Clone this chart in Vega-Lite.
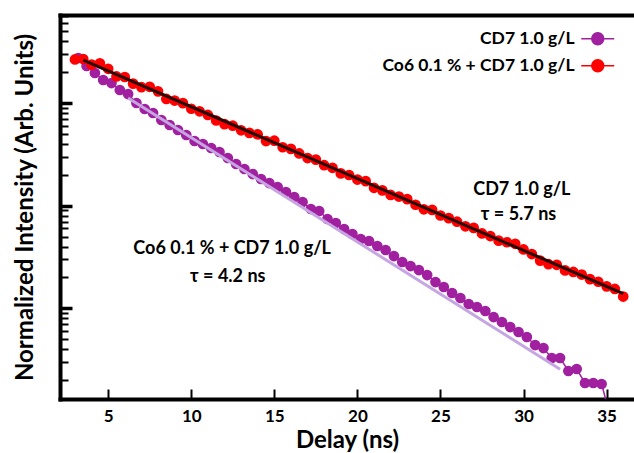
{
  "$schema": "https://vega.github.io/schema/vega-lite/v6.json",
  "width": 574,
  "height": 384,
  "autosize": {"type": "none"},
  "padding": {"left": 60, "top": 15, "right": 0, "bottom": 54},
  "background": "white",
  "config": {"view": {"stroke": null}, "font": "Lato", "axis": {"grid": false}},
  "datasets": {
    "decay": [
      {"series": "CD7 1.0 g/L", "delay": 3.2, "intensity": 2.743},
      {"series": "CD7 1.0 g/L", "delay": 3.7, "intensity": 2.293},
      {"series": "CD7 1.0 g/L", "delay": 4.2, "intensity": 1.960},
      {"series": "CD7 1.0 g/L", "delay": 4.7, "intensity": 1.675},
      {"series": "CD7 1.0 g/L", "delay": 5.2, "intensity": 1.565},
      {"series": "CD7 1.0 g/L", "delay": 5.7, "intensity": 1.339},
      {"series": "CD7 1.0 g/L", "delay": 6.2, "intensity": 1.223},
      {"series": "CD7 1.0 g/L", "delay": 6.7, "intensity": 1.000},
      {"series": "CD7 1.0 g/L", "delay": 7.2, "intensity": 0.874},
      {"series": "CD7 1.0 g/L", "delay": 7.7, "intensity": 0.7991},
      {"series": "CD7 1.0 g/L", "delay": 8.2, "intensity": 0.6832},
      {"series": "CD7 1.0 g/L", "delay": 8.7, "intensity": 0.6106},
      {"series": "CD7 1.0 g/L", "delay": 9.2, "intensity": 0.5459},
      {"series": "CD7 1.0 g/L", "delay": 9.7, "intensity": 0.4881},
      {"series": "CD7 1.0 g/L", "delay": 10.2, "intensity": 0.4266},
      {"series": "CD7 1.0 g/L", "delay": 10.7, "intensity": 0.3989},
      {"series": "CD7 1.0 g/L", "delay": 11.2, "intensity": 0.3646},
      {"series": "CD7 1.0 g/L", "delay": 11.7, "intensity": 0.3333},
      {"series": "CD7 1.0 g/L", "delay": 12.2, "intensity": 0.2914},
      {"series": "CD7 1.0 g/L", "delay": 12.7, "intensity": 0.2547},
      {"series": "CD7 1.0 g/L", "delay": 13.2, "intensity": 0.2277},
      {"series": "CD7 1.0 g/L", "delay": 13.7, "intensity": 0.2035},
      {"series": "CD7 1.0 g/L", "delay": 14.2, "intensity": 0.1820},
      {"series": "CD7 1.0 g/L", "delay": 14.7, "intensity": 0.1663},
      {"series": "CD7 1.0 g/L", "delay": 15.2, "intensity": 0.1521},
      {"series": "CD7 1.0 g/L", "delay": 15.7, "intensity": 0.1360},
      {"series": "CD7 1.0 g/L", "delay": 16.2, "intensity": 0.1215},
      {"series": "CD7 1.0 g/L", "delay": 16.7, "intensity": 0.1086},
      {"series": "CD7 1.0 g/L", "delay": 17.2, "intensity": 0.09288},
      {"series": "CD7 1.0 g/L", "delay": 17.7, "intensity": 0.0888},
      {"series": "CD7 1.0 g/L", "delay": 18.2, "intensity": 0.07421},
      {"series": "CD7 1.0 g/L", "delay": 18.7, "intensity": 0.06785},
      {"series": "CD7 1.0 g/L", "delay": 19.2, "intensity": 0.0593},
      {"series": "CD7 1.0 g/L", "delay": 19.7, "intensity": 0.05303},
      {"series": "CD7 1.0 g/L", "delay": 20.2, "intensity": 0.04741},
      {"series": "CD7 1.0 g/L", "delay": 20.7, "intensity": 0.04533},
      {"series": "CD7 1.0 g/L", "delay": 21.2, "intensity": 0.04052},
      {"series": "CD7 1.0 g/L", "delay": 21.7, "intensity": 0.03704},
      {"series": "CD7 1.0 g/L", "delay": 22.2, "intensity": 0.03237},
      {"series": "CD7 1.0 g/L", "delay": 22.7, "intensity": 0.0283},
      {"series": "CD7 1.0 g/L", "delay": 23.2, "intensity": 0.02587},
      {"series": "CD7 1.0 g/L", "delay": 23.7, "intensity": 0.02365},
      {"series": "CD7 1.0 g/L", "delay": 24.2, "intensity": 0.02114},
      {"series": "CD7 1.0 g/L", "delay": 24.7, "intensity": 0.01807},
      {"series": "CD7 1.0 g/L", "delay": 25.2, "intensity": 0.01616},
      {"series": "CD7 1.0 g/L", "delay": 25.7, "intensity": 0.01413},
      {"series": "CD7 1.0 g/L", "delay": 26.2, "intensity": 0.01263},
      {"series": "CD7 1.0 g/L", "delay": 26.7, "intensity": 0.01104},
      {"series": "CD7 1.0 g/L", "delay": 27.2, "intensity": 0.01032},
      {"series": "CD7 1.0 g/L", "delay": 27.7, "intensity": 0.009434},
      {"series": "CD7 1.0 g/L", "delay": 28.2, "intensity": 0.008245},
      {"series": "CD7 1.0 g/L", "delay": 28.7, "intensity": 0.007372},
      {"series": "CD7 1.0 g/L", "delay": 29.2, "intensity": 0.006589},
      {"series": "CD7 1.0 g/L", "delay": 29.7, "intensity": 0.005891},
      {"series": "CD7 1.0 g/L", "delay": 30.2, "intensity": 0.005266},
      {"series": "CD7 1.0 g/L", "delay": 30.7, "intensity": 0.004401},
      {"series": "CD7 1.0 g/L", "delay": 31.2, "intensity": 0.004115},
      {"series": "CD7 1.0 g/L", "delay": 31.7, "intensity": 0.003289},
      {"series": "CD7 1.0 g/L", "delay": 32.2, "intensity": 0.003289},
      {"series": "CD7 1.0 g/L", "delay": 32.7, "intensity": 0.002458},
      {"series": "CD7 1.0 g/L", "delay": 33.2, "intensity": 0.00257},
      {"series": "CD7 1.0 g/L", "delay": 33.7, "intensity": 0.001878},
      {"series": "CD7 1.0 g/L", "delay": 34.2, "intensity": 0.001878},
      {"series": "CD7 1.0 g/L", "delay": 34.7, "intensity": 0.001836},
      {"series": "CD7 1.0 g/L", "delay": 35.2, "intensity": 0.000916},
      {"series": "Co6 0.1 % + CD7 1.0 g/L", "delay": 3.0, "intensity": 2.655},
      {"series": "Co6 0.1 % + CD7 1.0 g/L", "delay": 3.5, "intensity": 2.680},
      {"series": "Co6 0.1 % + CD7 1.0 g/L", "delay": 4.0, "intensity": 2.364},
      {"series": "Co6 0.1 % + CD7 1.0 g/L", "delay": 4.5, "intensity": 2.439},
      {"series": "Co6 0.1 % + CD7 1.0 g/L", "delay": 5.0, "intensity": 2.152},
      {"series": "Co6 0.1 % + CD7 1.0 g/L", "delay": 5.5, "intensity": 1.815},
      {"series": "Co6 0.1 % + CD7 1.0 g/L", "delay": 6.0, "intensity": 1.791},
      {"series": "Co6 0.1 % + CD7 1.0 g/L", "delay": 6.5, "intensity": 1.545},
      {"series": "Co6 0.1 % + CD7 1.0 g/L", "delay": 7.0, "intensity": 1.426},
      {"series": "Co6 0.1 % + CD7 1.0 g/L", "delay": 7.5, "intensity": 1.439},
      {"series": "Co6 0.1 % + CD7 1.0 g/L", "delay": 8.0, "intensity": 1.298},
      {"series": "Co6 0.1 % + CD7 1.0 g/L", "delay": 8.5, "intensity": 1.095},
      {"series": "Co6 0.1 % + CD7 1.0 g/L", "delay": 9.0, "intensity": 1.056},
      {"series": "Co6 0.1 % + CD7 1.0 g/L", "delay": 9.5, "intensity": 0.9968},
      {"series": "Co6 0.1 % + CD7 1.0 g/L", "delay": 10.0, "intensity": 0.8794},
      {"series": "Co6 0.1 % + CD7 1.0 g/L", "delay": 10.5, "intensity": 0.8299},
      {"series": "Co6 0.1 % + CD7 1.0 g/L", "delay": 11.0, "intensity": 0.7656},
      {"series": "Co6 0.1 % + CD7 1.0 g/L", "delay": 11.5, "intensity": 0.6754},
      {"series": "Co6 0.1 % + CD7 1.0 g/L", "delay": 12.0, "intensity": 0.6232},
      {"series": "Co6 0.1 % + CD7 1.0 g/L", "delay": 12.5, "intensity": 0.6015},
      {"series": "Co6 0.1 % + CD7 1.0 g/L", "delay": 13.0, "intensity": 0.5424},
      {"series": "Co6 0.1 % + CD7 1.0 g/L", "delay": 13.5, "intensity": 0.5118},
      {"series": "Co6 0.1 % + CD7 1.0 g/L", "delay": 14.0, "intensity": 0.4939},
      {"series": "Co6 0.1 % + CD7 1.0 g/L", "delay": 14.5, "intensity": 0.4259},
      {"series": "Co6 0.1 % + CD7 1.0 g/L", "delay": 15.0, "intensity": 0.4298},
      {"series": "Co6 0.1 % + CD7 1.0 g/L", "delay": 15.5, "intensity": 0.3708},
      {"series": "Co6 0.1 % + CD7 1.0 g/L", "delay": 16.0, "intensity": 0.3577},
      {"series": "Co6 0.1 % + CD7 1.0 g/L", "delay": 16.5, "intensity": 0.3228},
      {"series": "Co6 0.1 % + CD7 1.0 g/L", "delay": 17.0, "intensity": 0.2912},
      {"series": "Co6 0.1 % + CD7 1.0 g/L", "delay": 17.5, "intensity": 0.2810},
      {"series": "Co6 0.1 % + CD7 1.0 g/L", "delay": 18.0, "intensity": 0.2479},
      {"series": "Co6 0.1 % + CD7 1.0 g/L", "delay": 18.5, "intensity": 0.2339},
      {"series": "Co6 0.1 % + CD7 1.0 g/L", "delay": 19.0, "intensity": 0.2064},
      {"series": "Co6 0.1 % + CD7 1.0 g/L", "delay": 19.5, "intensity": 0.1991},
      {"series": "Co6 0.1 % + CD7 1.0 g/L", "delay": 20.0, "intensity": 0.1797},
      {"series": "Co6 0.1 % + CD7 1.0 g/L", "delay": 20.5, "intensity": 0.1734},
      {"series": "Co6 0.1 % + CD7 1.0 g/L", "delay": 21.0, "intensity": 0.1495},
      {"series": "Co6 0.1 % + CD7 1.0 g/L", "delay": 21.5, "intensity": 0.1411},
      {"series": "Co6 0.1 % + CD7 1.0 g/L", "delay": 22.0, "intensity": 0.1272},
      {"series": "Co6 0.1 % + CD7 1.0 g/L", "delay": 22.5, "intensity": 0.1228},
      {"series": "Co6 0.1 % + CD7 1.0 g/L", "delay": 23.0, "intensity": 0.1159},
      {"series": "Co6 0.1 % + CD7 1.0 g/L", "delay": 23.5, "intensity": 0.1022},
      {"series": "Co6 0.1 % + CD7 1.0 g/L", "delay": 24.0, "intensity": 0.09222},
      {"series": "Co6 0.1 % + CD7 1.0 g/L", "delay": 24.5, "intensity": 0.09102},
      {"series": "Co6 0.1 % + CD7 1.0 g/L", "delay": 25.0, "intensity": 0.0803},
      {"series": "Co6 0.1 % + CD7 1.0 g/L", "delay": 25.5, "intensity": 0.07574},
      {"series": "Co6 0.1 % + CD7 1.0 g/L", "delay": 26.0, "intensity": 0.0699},
      {"series": "Co6 0.1 % + CD7 1.0 g/L", "delay": 26.5, "intensity": 0.06306},
      {"series": "Co6 0.1 % + CD7 1.0 g/L", "delay": 27.0, "intensity": 0.06083},
      {"series": "Co6 0.1 % + CD7 1.0 g/L", "delay": 27.5, "intensity": 0.05369},
      {"series": "Co6 0.1 % + CD7 1.0 g/L", "delay": 28.0, "intensity": 0.05064},
      {"series": "Co6 0.1 % + CD7 1.0 g/L", "delay": 28.5, "intensity": 0.0457},
      {"series": "Co6 0.1 % + CD7 1.0 g/L", "delay": 29.0, "intensity": 0.04409},
      {"series": "Co6 0.1 % + CD7 1.0 g/L", "delay": 29.5, "intensity": 0.04254},
      {"series": "Co6 0.1 % + CD7 1.0 g/L", "delay": 30.0, "intensity": 0.03753},
      {"series": "Co6 0.1 % + CD7 1.0 g/L", "delay": 30.5, "intensity": 0.03385},
      {"series": "Co6 0.1 % + CD7 1.0 g/L", "delay": 31.0, "intensity": 0.02921},
      {"series": "Co6 0.1 % + CD7 1.0 g/L", "delay": 31.5, "intensity": 0.02695},
      {"series": "Co6 0.1 % + CD7 1.0 g/L", "delay": 32.0, "intensity": 0.02659},
      {"series": "Co6 0.1 % + CD7 1.0 g/L", "delay": 32.5, "intensity": 0.02346},
      {"series": "Co6 0.1 % + CD7 1.0 g/L", "delay": 33.0, "intensity": 0.02263},
      {"series": "Co6 0.1 % + CD7 1.0 g/L", "delay": 33.5, "intensity": 0.02135},
      {"series": "Co6 0.1 % + CD7 1.0 g/L", "delay": 34.0, "intensity": 0.01927},
      {"series": "Co6 0.1 % + CD7 1.0 g/L", "delay": 34.5, "intensity": 0.01818},
      {"series": "Co6 0.1 % + CD7 1.0 g/L", "delay": 35.0, "intensity": 0.0164},
      {"series": "Co6 0.1 % + CD7 1.0 g/L", "delay": 35.5, "intensity": 0.01547},
      {"series": "Co6 0.1 % + CD7 1.0 g/L", "delay": 36.0, "intensity": 0.01305}
    ],
    "fits": [
      {"fit": "CD7 fit", "delay": 6.2, "intensity": 1.119},
      {"fit": "CD7 fit", "delay": 32.2, "intensity": 0.002561},
      {"fit": "Co6 fit", "delay": 3.5, "intensity": 2.62},
      {"fit": "Co6 fit", "delay": 36.0, "intensity": 0.01396}
    ],
    "notes": [
      {"delay": 12.46, "intensity": 0.0379, "text": "Co6 0.1 % + CD7 1.0 g/L"},
      {"delay": 12.2, "intensity": 0.0202, "text": "τ = 4.2 ns"},
      {"delay": 29.9, "intensity": 0.1422, "text": "CD7 1.0 g/L"},
      {"delay": 29.7, "intensity": 0.0812, "text": "τ = 5.7 ns"}
    ]
  },
  "resolve": {"axis": {"x": "independent", "y": "independent"}},
  "layer": [
    {
      "data": {"name": "decay"},
      "mark": {"type": "line", "strokeWidth": 1.5, "clip": true},
      "encoding": {
        "x": {
          "field": "delay", "type": "quantitative",
          "scale": {"domain": [2.1, 36.65], "nice": false, "zero": false},
          "axis": {
            "orient": "bottom", "values": [5, 10, 15, 20, 25, 30, 35],
            "domainWidth": 4, "domainColor": "black", "domainCap": "square",
            "tickSize": -10, "tickWidth": 2, "tickColor": "black",
            "labelFont": "Lato", "labelFontSize": 17, "labelFontWeight": "bold", "labelColor": "black",
            "labelPadding": 19,
            "title": "Delay (ns)", "titleFont": "Lato", "titleFontSize": 24, "titleFontWeight": "bold",
            "titleColor": "black", "titlePadding": 4
          }
        },
        "y": {
          "field": "intensity", "type": "quantitative",
          "scale": {"type": "log", "domain": [0.001312, 7.193], "nice": false},
          "axis": {
            "orient": "left",
            "values": [0.002, 0.003, 0.004, 0.005, 0.006, 0.007, 0.008, 0.009, 0.02, 0.03, 0.04, 0.05, 0.06, 0.07, 0.08, 0.09, 0.2, 0.3, 0.4, 0.5, 0.6, 0.7, 0.8, 0.9, 2, 3, 4, 5, 6, 7],
            "labels": false,
            "domainWidth": 4, "domainColor": "black", "domainCap": "square",
            "tickSize": -8, "tickWidth": 2, "tickColor": "black",
            "title": "Normalized Intensity (Arb. Units)", "titleFont": "Lato", "titleFontSize": 24,
            "titleFontWeight": "bold", "titleColor": "black", "titlePadding": 22
          }
        },
        "detail": {"field": "series"},
        "color": {"condition": {"test": "datum.series === 'CD7 1.0 g/L'", "value": "#A020A0"}, "value": "#FF0000"}
      }
    },
    {
      "data": {"name": "decay"},
      "mark": {"type": "point", "filled": true, "size": 85, "opacity": 1, "strokeWidth": 1.5, "clip": true},
      "encoding": {
        "x": {"field": "delay", "type": "quantitative", "axis": null},
        "y": {"field": "intensity", "type": "quantitative", "axis": null},
        "color": {
          "field": "series", "type": "nominal",
          "scale": {"domain": ["CD7 1.0 g/L", "Co6 0.1 % + CD7 1.0 g/L"], "range": ["#A020A0", "#FF0000"]},
          "legend": {
            "orient": "none", "legendX": 529, "legendY": 15, "title": null, "padding": 0,
            "symbolType": "M-2.75,0L2.75,0M-1,0A1,1,0,1,1,1,0A1,1,0,1,1,-1,0Z",
            "symbolSize": 144, "symbolStrokeWidth": 1.5,
            "labelAlign": "right", "labelOffset": -32, "labelLimit": 400,
            "labelFont": "Lato", "labelFontSize": 17.5, "labelFontWeight": "bold", "labelColor": "black",
            "rowPadding": 8
          }
        },
        "stroke": {
          "field": "series", "type": "nominal",
          "scale": {"domain": ["CD7 1.0 g/L", "Co6 0.1 % + CD7 1.0 g/L"], "range": ["#A020A0", "#FF0000"]},
          "legend": {
            "orient": "none", "legendX": 529, "legendY": 15, "title": null, "padding": 0,
            "symbolType": "M-2.75,0L2.75,0M-1,0A1,1,0,1,1,1,0A1,1,0,1,1,-1,0Z",
            "symbolSize": 144, "symbolStrokeWidth": 1.5,
            "labelAlign": "right", "labelOffset": -32, "labelLimit": 400,
            "labelFont": "Lato", "labelFontSize": 17.5, "labelFontWeight": "bold", "labelColor": "black",
            "rowPadding": 8
          }
        }
      }
    },
    {
      "data": {"name": "fits"},
      "mark": {"type": "line", "strokeWidth": 3, "clip": true},
      "encoding": {
        "x": {
          "field": "delay", "type": "quantitative",
          "axis": {"orient": "top", "domainWidth": 4, "domainColor": "black", "domainCap": "square", "ticks": false, "labels": false, "title": null}
        },
        "y": {
          "field": "intensity", "type": "quantitative",
          "axis": {"orient": "left", "values": [0.01, 0.1, 1], "domain": false, "labels": false, "tickSize": -12, "tickWidth": 3.5, "tickColor": "black", "title": null}
        },
        "detail": {"field": "fit"},
        "color": {"condition": {"test": "datum.fit === 'CD7 fit'", "value": "#C6A6E2"}, "value": "#2A0303"}
      }
    },
    {
      "data": {"name": "notes"},
      "mark": {"type": "text", "font": "Lato", "fontSize": 18, "fontWeight": "bold", "align": "center", "baseline": "middle", "color": "black"},
      "encoding": {
        "x": {"field": "delay", "type": "quantitative", "axis": null},
        "y": {"field": "intensity", "type": "quantitative", "axis": null},
        "text": {"field": "text"}
      }
    }
  ]
}
